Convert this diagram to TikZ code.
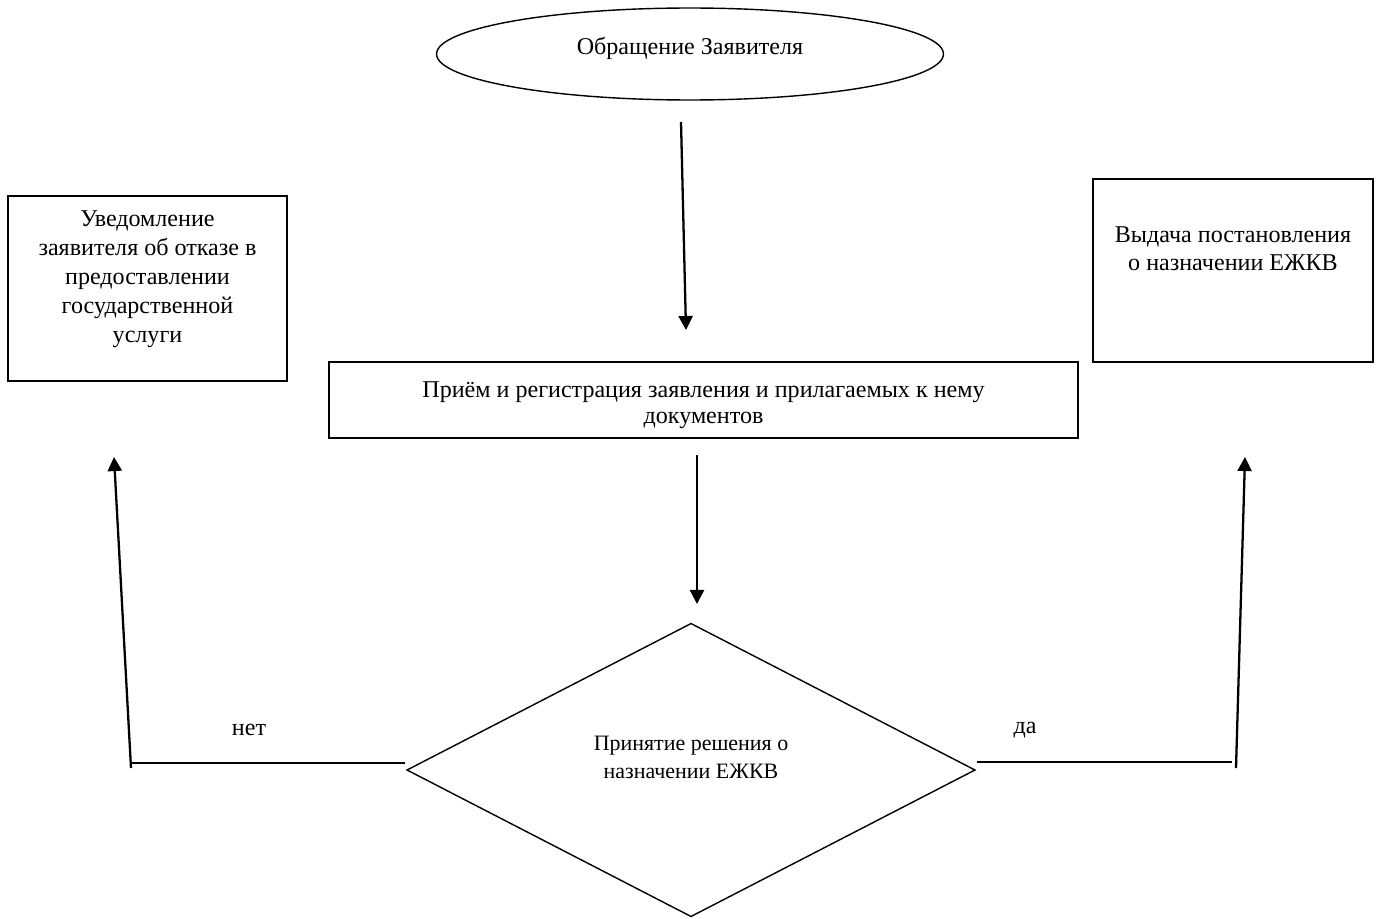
\documentclass[tikz,border=0pt]{standalone}
\usepackage{fontspec}
\setmainfont{Liberation Serif}
\usetikzlibrary{shapes.geometric,arrows.meta,calc}

\tikzset{
  txt/.style={font=\fontsize{13.7}{16}\selectfont},
  stepbox/.style={draw, line width=0.8pt, inner sep=0pt, outer sep=0pt},
  arr/.style={line width=1.3pt, -{Triangle[width=8pt,length=8pt]}},
  branch/.style={line width=0.6pt},
}

\begin{document}
\begin{tikzpicture}[x=0.02cm, y=-0.02cm]
    \useasboundingbox (0,0) rectangle (1382,919);
    % Start
    \node[stepbox, ellipse, minimum width=10.14cm, minimum height=1.84cm,
          label={[txt, yshift=0.12cm]center:Обращение Заявителя}] (appeal) at (690,54) {};
    % Intake
    \node[stepbox, minimum width=14.98cm, minimum height=1.52cm,
          label={[align=center, yshift=-0.1cm, font=\fontsize{13.7}{14.9}\selectfont]center:Приём и регистрация заявления и прилагаемых к нему\\документов}]
          (intake) at (703.5,400) {};
    % Decision
    \node[stepbox, diamond, aspect=2, minimum width=11.36cm, minimum height=5.86cm,
          label={[align=center, yshift=0.26cm, font=\fontsize{12.5}{16}\selectfont]center:Принятие решения о\\назначении ЕЖКВ}]
          (decide) at (691,770) {};
    % Outcomes
    \node[stepbox, minimum width=5.58cm, minimum height=3.7cm,
          label={[align=center, anchor=north, yshift=-0.18cm, font=\fontsize{13.7}{16.4}\selectfont]north:Уведомление\\заявителя об отказе в\\предоставлении\\государственной\\услуги}]
          (refuse) at (147.5,288.5) {};
    \node[stepbox, minimum width=5.6cm, minimum height=3.66cm,
          label={[align=center, anchor=north, yshift=-0.84cm, font=\fontsize{13.7}{15.8}\selectfont]north:Выдача постановления\\о назначении ЕЖКВ}]
          (issue) at (1233,270.5) {};

    \coordinate (noCorner) at (131,763);
    \coordinate (noTip) at (114,457);
    \coordinate (yesCorner) at (1232,762);
    \coordinate (yesTip) at (1245,457);

    \draw[arr] ($(appeal.south)+(-9,22)$) -- ($(intake.north)+(-17.5,-32)$);
    \draw[arr] ($(intake.south)+(-6.5,17)$) -- ($(decide.north)+(6,-19.5)$);

    % No branch
    \draw[branch] ($(decide.west)+(-2,-7)$) -- (noCorner);
    \draw[arr] ($(noCorner)+(0,5)$) -- (noTip);
    \node[txt] (noLabel) at (249,730) {нет};

    % Yes branch
    \draw[branch] ($(decide.east)+(2,-8)$) -- (yesCorner);
    \draw[arr] ($(yesCorner)+(4,6)$) -- (yesTip);
    \node[txt] (yesLabel) at (1025,730) {да};
\end{tikzpicture}
\end{document}
